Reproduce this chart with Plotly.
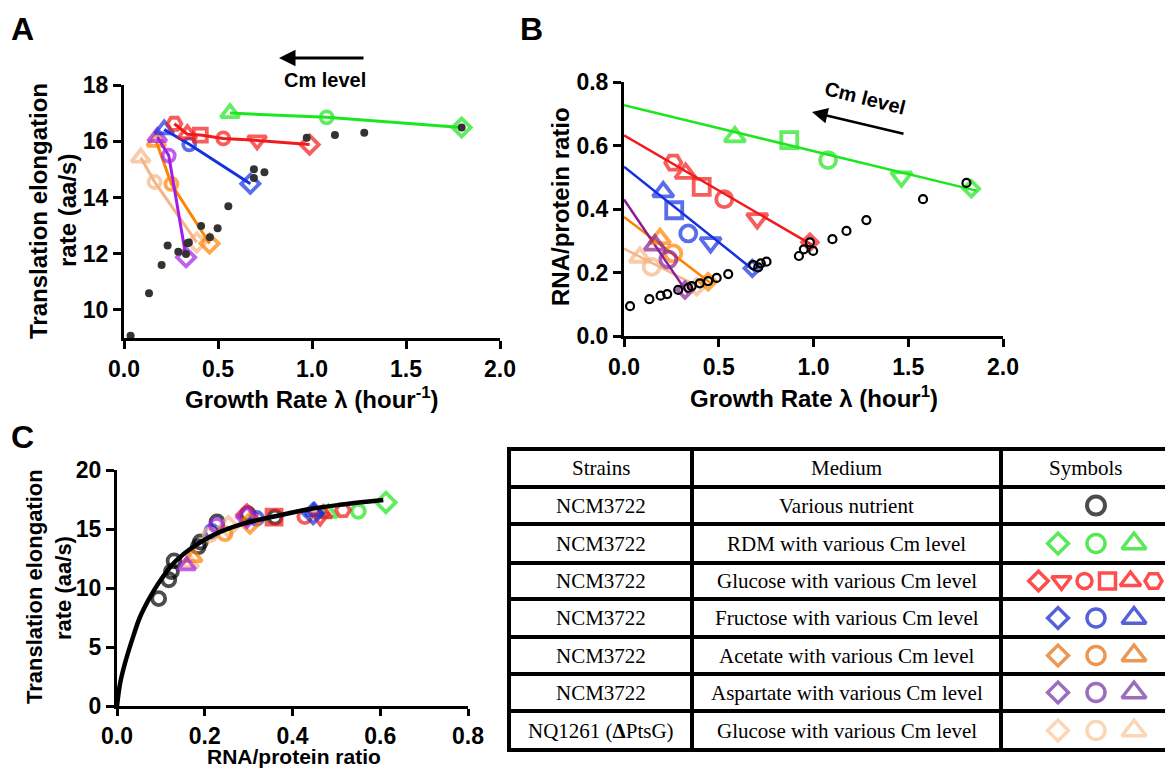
import plotly.graph_objects as go

W, H = 1173, 769
OFF = 8  # the page body margin shifts the figure by this many pixels

# ---------------- Panel A: growth rate vs translation elongation rate ----------------
a_nutrient_x = [0.035, 0.133, 0.200, 0.232, 0.289, 0.330, 0.337, 0.345, 0.410, 0.457, 0.498,
                0.555, 0.691, 0.691, 0.747, 0.972, 1.122, 1.278, 1.796]
a_nutrient_y = [9.08, 10.59, 11.60, 12.29, 12.07, 11.99, 12.37, 12.40, 12.98, 12.58, 12.90,
                13.69, 15.00, 14.69, 14.90, 16.12, 16.22, 16.30, 16.49]

a_rdm_x = [0.564, 1.078, 1.796]
a_rdm_y = [17.00, 16.85, 16.49]
a_glc_x = [0.268, 0.337, 0.406, 0.528, 0.708, 0.987]
a_glc_y = [16.62, 16.25, 16.22, 16.10, 16.03, 15.88]
a_fru_x = [0.214, 0.347, 0.672]
a_fru_y = [16.42, 15.89, 14.49]
a_ace_x = [0.172, 0.252, 0.455]
a_ace_y = [15.98, 14.48, 12.36]
a_asp_x = [0.177, 0.238, 0.330]
a_asp_y = [16.15, 15.49, 11.87]
a_nq_x = [0.089, 0.163, 0.387]
a_nq_y = [15.42, 14.55, 12.40]

# ---------------- Panel B: growth rate vs RNA/protein ratio ----------------
b_nutrient_x = [0.032, 0.134, 0.193, 0.228, 0.286, 0.339, 0.357, 0.400, 0.444, 0.489, 0.550,
                0.682, 0.708, 0.722, 0.752, 0.923, 0.949, 0.981, 0.998, 1.100, 1.174, 1.279,
                1.578, 1.807]
b_nutrient_y = [0.094, 0.116, 0.127, 0.132, 0.145, 0.152, 0.157, 0.166, 0.173, 0.183, 0.195,
                0.223, 0.216, 0.229, 0.234, 0.252, 0.273, 0.295, 0.268, 0.305, 0.331, 0.365,
                0.431, 0.482]

b_rdm_x = [0.585, 0.872, 1.077, 1.464, 1.833]
b_rdm_y = [0.627, 0.617, 0.554, 0.501, 0.464]
b_rdm_fit_x = [0.0, 1.86]
b_rdm_fit_y = [0.727, 0.458]
b_glc_x = [0.260, 0.325, 0.410, 0.529, 0.703, 0.981]
b_glc_y = [0.546, 0.512, 0.470, 0.431, 0.370, 0.295]
b_glc_fit_x = [0.0, 0.99]
b_glc_fit_y = [0.632, 0.288]
b_fru_x = [0.207, 0.265, 0.339, 0.457, 0.677]
b_fru_y = [0.454, 0.396, 0.323, 0.294, 0.213]
b_fru_fit_x = [0.0, 0.69]
b_fru_fit_y = [0.533, 0.205]
b_ace_x = [0.190, 0.260, 0.444]
b_ace_y = [0.307, 0.260, 0.171]
b_ace_fit_x = [0.0, 0.455]
b_ace_fit_y = [0.375, 0.168]
b_asp_x = [0.163, 0.234, 0.322]
b_asp_y = [0.286, 0.241, 0.145]
b_asp_fit_x = [0.0, 0.335]
b_asp_fit_y = [0.430, 0.135]
b_nq_x = [0.084, 0.146, 0.383]
b_nq_y = [0.248, 0.218, 0.155]
b_nq_fit_x = [0.0, 0.40]
b_nq_fit_y = [0.275, 0.153]

# ---------------- Panel C: RNA/protein ratio vs elongation rate ----------------
c_nutrient_x = [0.095, 0.118, 0.124, 0.130, 0.185, 0.190, 0.228, 0.298, 0.360]
c_nutrient_y = [9.1, 10.7, 11.4, 12.3, 13.5, 13.9, 15.6, 16.3, 16.0]
c_rdm_x = [0.482, 0.550, 0.613]
c_rdm_y = [16.35, 16.50, 17.25]
c_glc_x = [0.296, 0.358, 0.428, 0.463, 0.470, 0.515]
c_glc_y = [16.2, 16.0, 16.05, 16.0, 16.3, 16.6]
c_fru_x = [0.216, 0.318, 0.447, 0.450]
c_fru_y = [14.8, 15.9, 16.3, 16.5]
c_ace_x = [0.174, 0.246, 0.303]
c_ace_y = [12.6, 14.6, 15.5]
c_asp_x = [0.159, 0.227, 0.296]
c_asp_y = [11.9, 15.3, 16.0]
c_nq_x = [0.166, 0.212, 0.254]
c_nq_y = [12.1, 14.5, 15.2]
c_fit_x = [0.0, 0.007, 0.018, 0.037, 0.052, 0.075, 0.098, 0.136, 0.212, 0.288, 0.364, 0.440, 0.520, 0.607]
c_fit_y = [0.0, 1.9, 3.6, 5.9, 7.5, 9.2, 10.6, 12.37, 14.35, 15.45, 16.1, 16.7, 17.1, 17.45]

# ---------------- symbols ----------------
sym3 = ["triangle-up", "circle", "diamond"]
sym5 = ["triangle-up", "square", "circle", "triangle-down", "diamond"]
sym_glc = ["hexagon2", "triangle-up", "square", "circle", "triangle-down", "diamond"]
c_glc_sym = ["diamond", "square", "circle", "triangle-down", "triangle-up", "hexagon2"]
c_fru_sym = ["circle", "circle", "diamond", "triangle-up"]

# ---------------- table ----------------
table_header = ["Strains", "Medium", "Symbols"]
table_strains = ["NCM3722"] * 6 + ["NQ1261 (<b>Δ</b>PtsG)"]
table_media = ["Various nutrient", "RDM with various Cm level", "Glucose with various Cm level",
               "Fructose with various Cm level", "Acetate with various Cm level",
               "Aspartate with various Cm level", "Glucose with various Cm level"]
table_symbols = [["circle"],
                 ["diamond", "circle", "triangle-up"],
                 ["diamond", "triangle-down", "circle", "square", "triangle-up", "hexagon2"],
                 ["diamond", "circle", "triangle-up"],
                 ["diamond", "circle", "triangle-up"],
                 ["diamond", "circle", "triangle-up"],
                 ["diamond", "circle", "triangle-up"]]
table_colors = ["#000000", "#10e010", "#ff0000", "#0a1fc8", "#e46c0a", "#7030a0", "#f9c394"]

# ---------------- colours ----------------
GREEN = "#1ee61e"
RED = "#f21a1a"
BLUE = "#1430e0"
ORANGE = "#ff8200"
PURPLE_A = "#a21ee6"
PURPLE_B = "#8a1e96"
TAN = "#f5b585"
DOT = "#333333"

FONT = "Liberation Sans"
SERIF = "Liberation Serif"


def dx(px):
    return (px - OFF) / W


def dy(py):
    return 1 - (py - OFF) / H


fig = go.Figure()

SIZE_A = {"circle": 12, "diamond": 14, "triangle-up": 16, "triangle-down": 16, "square": 13, "hexagon2": 14}
SIZE_B = {"circle": 16, "diamond": 12, "triangle-up": 18, "triangle-down": 18, "square": 16, "hexagon2": 16}
SIZE_C = {"circle": 13, "diamond": 15, "triangle-up": 15, "triangle-down": 15, "square": 15, "hexagon2": 14}


def add_series(x, y, syms, color, xa, ya, sizes, mode="markers", lw=3.8, line_w=3):
    fig.add_trace(go.Scatter(
        x=x, y=y, xaxis=xa, yaxis=ya, mode=mode,
        marker=dict(symbol=[s + "-open" for s in syms], size=[sizes[s] for s in syms],
                    color=color, line=dict(color=color, width=lw)),
        line=dict(color=color, width=line_w),
        cliponaxis=False, showlegend=False, hoverinfo="skip"))


def add_line(x, y, color, xa, ya, width):
    fig.add_trace(go.Scatter(x=x, y=y, xaxis=xa, yaxis=ya, mode="lines",
                             line=dict(color=color, width=width), cliponaxis=False,
                             showlegend=False, hoverinfo="skip"))


# Panel A
add_series(a_nq_x, a_nq_y, sym3, TAN, "x", "y", SIZE_A, "lines+markers")
add_series(a_ace_x, a_ace_y, sym3, ORANGE, "x", "y", SIZE_A, "lines+markers")
add_series(a_asp_x, a_asp_y, sym3, PURPLE_A, "x", "y", SIZE_A, "lines+markers")
add_series(a_fru_x, a_fru_y, sym3, BLUE, "x", "y", SIZE_A, "lines+markers")
add_series(a_glc_x, a_glc_y, sym_glc, RED, "x", "y", SIZE_A, "lines+markers")
add_series(a_rdm_x, a_rdm_y, sym3, GREEN, "x", "y", SIZE_A, "lines+markers")
fig.add_trace(go.Scatter(x=a_nutrient_x, y=a_nutrient_y, xaxis="x", yaxis="y", mode="markers",
                         marker=dict(symbol="circle", size=8, color=DOT), cliponaxis=False,
                         showlegend=False, hoverinfo="skip"))

# Panel B
for fx, fy, c in [(b_nq_fit_x, b_nq_fit_y, TAN), (b_ace_fit_x, b_ace_fit_y, ORANGE),
                  (b_asp_fit_x, b_asp_fit_y, PURPLE_B), (b_fru_fit_x, b_fru_fit_y, BLUE),
                  (b_glc_fit_x, b_glc_fit_y, RED), (b_rdm_fit_x, b_rdm_fit_y, GREEN)]:
    add_line(fx, fy, c, "x2", "y2", 2.5)
add_series(b_nq_x, b_nq_y, sym3, TAN, "x2", "y2", SIZE_B)
add_series(b_ace_x, b_ace_y, sym3, ORANGE, "x2", "y2", SIZE_B)
add_series(b_asp_x, b_asp_y, sym3, PURPLE_B, "x2", "y2", SIZE_B)
add_series(b_fru_x, b_fru_y, sym5, BLUE, "x2", "y2", SIZE_B)
add_series(b_glc_x, b_glc_y, sym_glc, RED, "x2", "y2", SIZE_B)
add_series(b_rdm_x, b_rdm_y, sym5, GREEN, "x2", "y2", SIZE_B)
fig.add_trace(go.Scatter(x=b_nutrient_x, y=b_nutrient_y, xaxis="x2", yaxis="y2", mode="markers",
                         marker=dict(symbol="circle-open", size=8, color="black",
                                     line=dict(color="black", width=2.2)),
                         cliponaxis=False, showlegend=False, hoverinfo="skip"))

# Panel C
add_series(c_nutrient_x, c_nutrient_y, ["circle"] * len(c_nutrient_x), "black", "x3", "y3", SIZE_C)
add_series(c_rdm_x, c_rdm_y, sym3, GREEN, "x3", "y3", SIZE_C)
add_series(c_glc_x, c_glc_y, c_glc_sym, RED, "x3", "y3", SIZE_C)
add_series(c_fru_x, c_fru_y, c_fru_sym, BLUE, "x3", "y3", SIZE_C)
add_series(c_nq_x, c_nq_y, sym3, TAN, "x3", "y3", SIZE_C)
add_series(c_ace_x, c_ace_y, sym3, ORANGE, "x3", "y3", SIZE_C)
add_series(c_asp_x, c_asp_y, sym3, PURPLE_A, "x3", "y3", SIZE_C)
fig.add_trace(go.Scatter(x=c_fit_x, y=c_fit_y, xaxis="x3", yaxis="y3", mode="lines",
                         line=dict(color="black", width=4.5, shape="spline"), cliponaxis=False,
                         showlegend=False, hoverinfo="skip"))

# ---------------- table (drawn on a pixel overlay axis) ----------------
ROW_Y = [449, 487, 524, 563, 599, 637, 674, 711, 750]
COL_X = [509, 692, 1001, 1170]
SYM_CX = 1096
TSIZE = {"circle": 18, "diamond": 16, "triangle-up": 21, "triangle-down": 18, "square": 16, "hexagon2": 17}
TSIZE_RED = {"circle": 15, "diamond": 15, "triangle-up": 18, "triangle-down": 17, "square": 16, "hexagon2": 17}

shapes = []
for yv in ROW_Y:
    shapes.append(dict(type="line", xref="x4", yref="y4", x0=COL_X[0] - 2, x1=COL_X[-1] + 2,
                       y0=yv, y1=yv, line=dict(color="black", width=4)))
for xv in COL_X:
    shapes.append(dict(type="line", xref="x4", yref="y4", x0=xv, x1=xv,
                       y0=ROW_Y[0], y1=ROW_Y[-1], line=dict(color="black", width=4)))

annotations = []
col_centers = [(COL_X[i] + COL_X[i + 1]) / 2 for i in range(3)]
row_centers = [(ROW_Y[i] + ROW_Y[i + 1]) / 2 for i in range(len(ROW_Y) - 1)]
for j, txt in enumerate(table_header):
    annotations.append(dict(xref="x4", yref="y4", x=col_centers[j], y=row_centers[0], text=txt,
                            showarrow=False, font=dict(family=SERIF, size=21, color="black")))
for i in range(len(table_strains)):
    for j, txt in enumerate([table_strains[i], table_media[i]]):
        annotations.append(dict(xref="x4", yref="y4", x=col_centers[j], y=row_centers[i + 1],
                                text=txt, showarrow=False,
                                font=dict(family=SERIF, size=21, color="black")))

for i, (syms, col) in enumerate(zip(table_symbols, table_colors)):
    n = len(syms)
    spacing = 38 if n <= 3 else 23
    xs = [SYM_CX + (k - (n - 1) / 2) * spacing for k in range(n)]
    ys = [row_centers[i + 1]] * n
    sz = TSIZE_RED if n > 3 else TSIZE
    lw = 4 if i == 0 else 3.5
    fig.add_trace(go.Scatter(x=xs, y=ys, xaxis="x4", yaxis="y4", mode="markers",
                             marker=dict(symbol=[s + "-open" for s in syms],
                                         size=[sz[s] for s in syms], color=col,
                                         line=dict(color=col, width=lw)),
                             cliponaxis=False, showlegend=False, hoverinfo="skip"))


def label(x, y, text, size, angle=0, family=FONT, bold=True):
    annotations.append(dict(xref="x4", yref="y4", x=x, y=y, text=text, showarrow=False,
                            textangle=angle, xanchor="center", yanchor="middle",
                            font=dict(family=family, size=size, color="black",
                                      weight="bold" if bold else "normal")))


# panel letters
label(22, 29, "A", 32)
label(531, 29, "B", 32)
label(22, 437, "C", 32)
# axis titles
label(38, 211, "Translation elongation", 24, -90)
label(67, 211, "rate (aa/s)", 24, -90)
label(312, 398, "Growth Rate λ (hour<sup>-1</sup>)", 24)
label(560, 207, "RNA/protein ratio", 24, -90)
label(814, 397, "Growth Rate λ (hour<sup>1</sup>)", 24)
label(34, 587, "Translation elongation", 22, -90)
label(63, 588, "rate (aa/s)", 22, -90)
label(294, 756, "RNA/protein ratio", 21)
# Cm level notes
label(325, 80, "Cm level", 20)
label(865, 98, "Cm level", 20, 14)
annotations.append(dict(xref="x4", yref="y4", axref="x4", ayref="y4", x=279, y=58, ax=365, ay=58,
                        text="", showarrow=True, arrowhead=2, arrowsize=1.1, arrowwidth=3,
                        arrowcolor="black", standoff=0))
annotations.append(dict(xref="x4", yref="y4", axref="x4", ayref="y4", x=812, y=112, ax=905, ay=134,
                        text="", showarrow=True, arrowhead=2, arrowsize=1.2, arrowwidth=2.6,
                        arrowcolor="black", standoff=0))

axis_style = dict(showline=True, linecolor="black", linewidth=3, ticks="outside", ticklen=8,
                  tickwidth=3, tickcolor="black", showgrid=False, zeroline=False, fixedrange=True,
                  automargin=False,
                  tickfont=dict(family=FONT, size=23, color="black", weight="bold"))

fig.update_layout(
    width=W, height=H, margin=dict(l=0, r=0, t=0, b=0, autoexpand=False),
    paper_bgcolor="white", plot_bgcolor="rgba(0,0,0,0)", showlegend=False,
    xaxis=dict(domain=[dx(124), dx(500)], range=[0, 2], tickvals=[0, 0.5, 1, 1.5, 2],
               tickformat=".1f", anchor="y", **axis_style),
    yaxis=dict(domain=[dy(338), dy(85)], range=[9, 18], tickvals=[10, 12, 14, 16, 18],
               anchor="x", **axis_style),
    xaxis2=dict(domain=[dx(624), dx(1003)], range=[0, 2], tickvals=[0, 0.5, 1, 1.5, 2],
                tickformat=".1f", anchor="y2", **axis_style),
    yaxis2=dict(domain=[dy(336), dy(82)], range=[0, 0.8],
                tickvals=[0, 0.2, 0.4, 0.6, 0.8], tickformat=".1f", anchor="x2", **axis_style),
    xaxis3=dict(domain=[dx(117), dx(468)], range=[0, 0.8], tickvals=[0, 0.2, 0.4, 0.6, 0.8],
                tickformat=".1f", anchor="y3", ticklen=7, **{k: v for k, v in axis_style.items() if k != "ticklen"}),
    yaxis3=dict(domain=[dy(706), dy(470)], range=[0, 20], tickvals=[0, 5, 10, 15, 20],
                anchor="x3", **axis_style),
    xaxis4=dict(domain=[0, 1], range=[OFF, W + OFF], visible=False, fixedrange=True, anchor="y4",
                automargin=False),
    yaxis4=dict(domain=[0, 1], range=[H + OFF, OFF], visible=False, fixedrange=True, anchor="x4",
                automargin=False),
    shapes=shapes, annotations=annotations,
)

fig.write_html("out.html")
